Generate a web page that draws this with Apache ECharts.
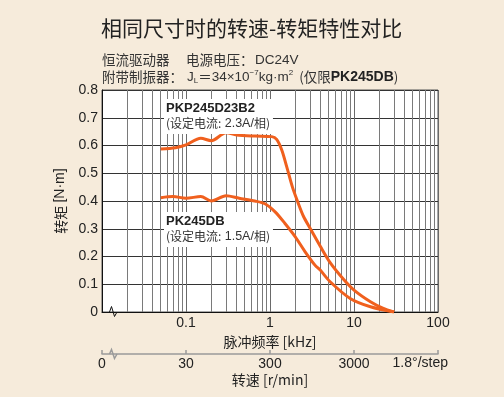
<!DOCTYPE html>
<html>
<head>
<meta charset="utf-8">
<script src="https://cdn.jsdelivr.net/npm/echarts@6/dist/echarts.min.js"></script>
<style>
html, body { margin: 0; padding: 0; background: #f6ebdb; }
#main { width: 504px; height: 397px; }
</style>
</head>
<body>
<div id="main"></div>
<script>
// PKP245D23B2 (2.3A/相)：脉冲频率 [kHz] / 转矩 [N·m]
var freqA = [0.05, 0.075, 0.1, 0.15, 0.2, 0.3, 0.4, 0.66, 1.05, 1.2, 1.38, 1.58, 1.85, 2.15, 2.5, 3.0, 4.0, 5.2, 7.5, 10, 15.7, 22, 30];
var torqueA = [0.587, 0.592, 0.602, 0.626, 0.617, 0.646, 0.638, 0.634, 0.632, 0.622, 0.584, 0.524, 0.45, 0.395, 0.345, 0.302, 0.235, 0.178, 0.118, 0.079, 0.037, 0.014, 0];
// PK245DB (1.5A/相)
var freqB = [0.05, 0.07, 0.1, 0.15, 0.2, 0.3, 0.43, 0.66, 0.87, 1.15, 1.5, 2.0, 2.62, 3.45, 3.96, 5.2, 9.0, 15.7, 30];
var torqueB = [0.412, 0.416, 0.41, 0.416, 0.40, 0.419, 0.41, 0.40, 0.39, 0.361, 0.32, 0.271, 0.217, 0.168, 0.151, 0.109, 0.049, 0.019, 0];
// 刻度文字 (0.01, 0.1, 1, 10, 100 kHz)
var freqLabels = ['', '0.1', '1', '10', '100'];
var speedLabels = ['0', '30', '300', '3000', ''];

var numFont = '"Liberation Sans Narrow", "Liberation Sans", sans-serif';
var latFont = '"Liberation Sans", sans-serif';
var cjkFont = '"Noto Sans CJK SC", sans-serif';
var lineColor = '#f0601e';

function pairs(xs, ys) {
    var out = [];
    for (var i = 0; i < xs.length; i++) out.push([xs[i], ys[i]]);
    return out;
}
function decade(v) {
    return Math.round(Math.log(v) / Math.LN10) + 2;
}

var myChart = echarts.init(document.getElementById('main'));

var noteRich = {
    b: { fontFamily: latFont, fontWeight: 'bold', fontSize: 13, lineHeight: 15, fill: '#222' },
    n: { fontFamily: cjkFont, fontWeight: 'normal', fontSize: 12, lineHeight: 15, fill: '#333' },
    d: { fontFamily: numFont, fontWeight: 'normal', fontSize: 12.5, lineHeight: 15, fill: '#333' }
};

var option = {
    backgroundColor: '#f6ebdb',
    animation: false,
    title: [{
        text: '相同尺寸时的转速-转矩特性对比',
        left: 101, top: 18, padding: 0,
        textStyle: { fontFamily: cjkFont, fontSize: 21, fontWeight: 'normal', color: '#222' }
    }, {
        text: '{a|恒流驱动器}{b|电源电压：}{c|DC24V}',
        left: 102, top: 53, padding: 0,
        textStyle: {
            fontFamily: cjkFont, fontSize: 13.5, fontWeight: 'normal', color: '#333',
            rich: {
                a: { fontFamily: cjkFont, fontWeight: 'normal', fontSize: 13.5, color: '#333', width: 84 },
                b: { fontFamily: cjkFont, fontWeight: 'normal', fontSize: 13.5, color: '#333', width: 69 },
                c: { fontFamily: latFont, fontWeight: 'normal', fontSize: 13.5, color: '#333' }
            }
        }
    }, {
        text: '{a|附带制振器：}{j|J}{sub|L}{a|＝}{f|34×10}{sup|−7}{f|kg·m}{sup|2}{g|}{a|(仅限}{b|PK245DB}{a|)}',
        left: 102, top: 69, padding: 0,
        textStyle: {
            fontFamily: cjkFont, fontSize: 13.5, fontWeight: 'normal', color: '#333', lineHeight: 16,
            rich: {
                a: { fontFamily: cjkFont, fontWeight: 'normal', fontSize: 13.5, color: '#333', lineHeight: 16 },
                j: { fontFamily: latFont, fontWeight: 'normal', fontSize: 13.5, color: '#333', lineHeight: 16, padding: [0, 0, 0, 4] },
                f: { fontFamily: latFont, fontWeight: 'normal', fontSize: 13.5, color: '#333', lineHeight: 16 },
                sub: { fontFamily: latFont, fontWeight: 'normal', fontSize: 8, color: '#333', verticalAlign: 'bottom', lineHeight: 12 },
                sup: { fontFamily: latFont, fontWeight: 'normal', fontSize: 8, color: '#333', verticalAlign: 'top', lineHeight: 10 },
                g: { width: 6 },
                b: { fontSize: 14, fontWeight: 'bold', fontFamily: latFont, color: '#222', lineHeight: 16 }
            }
        }
    }],
    grid: [{
        left: 102, top: 90, width: 336, height: 222,
        show: true, backgroundColor: '#ffffff', borderColor: '#555', borderWidth: 1
    }, {
        left: 102, top: 353, width: 336, height: 1
    }],
    xAxis: [{
        type: 'log', gridIndex: 0, logBase: 10, min: 0.01, max: 100,
        axisLine: { show: true, lineStyle: { color: '#111', width: 1 } },
        axisTick: { show: false },
        axisLabel: {
            margin: 4, color: '#222', fontSize: 14, fontFamily: numFont,
            formatter: function (v) { return freqLabels[decade(v)]; }
        },
        splitLine: { show: true, lineStyle: { color: '#6a6a6a', width: 1 } },
        minorTick: { show: false, splitNumber: 9 },
        minorSplitLine: { show: true, lineStyle: { color: '#7a7a7a', width: 1 } },
        name: '脉冲频率 [kHz]', nameLocation: 'middle', nameGap: 20,
        nameTextStyle: { fontFamily: cjkFont, fontSize: 14, color: '#222' }
    }, {
        type: 'log', gridIndex: 1, logBase: 10, min: 0.01, max: 100, position: 'bottom',
        axisLine: { show: true, lineStyle: { color: '#9a9a9a', width: 1.5 } },
        axisTick: { show: true, inside: true, length: 4, lineStyle: { color: '#9a9a9a', width: 1.5 } },
        axisLabel: {
            margin: 3, color: '#222', fontSize: 14, fontFamily: numFont,
            formatter: function (v) { return speedLabels[decade(v)]; }
        },
        splitLine: { show: false },
        name: '转速 [r/min]', nameLocation: 'middle', nameGap: 19,
        nameTextStyle: { fontFamily: cjkFont, fontSize: 14, color: '#222' }
    }],
    yAxis: [{
        type: 'value', gridIndex: 0, min: 0, max: 0.8, interval: 0.1,
        axisLine: { show: true, lineStyle: { color: '#111', width: 1 } },
        axisTick: { show: false },
        axisLabel: {
            margin: 4, color: '#222', fontSize: 14, fontFamily: numFont,
            formatter: function (v) { return v === 0 ? '0' : v.toFixed(1); }
        },
        splitLine: { show: true, lineStyle: { color: '#333', width: 1 } },
        name: '{c|转矩} {l|[N·m]}', nameLocation: 'middle', nameRotate: 90, nameGap: 30,
        nameTextStyle: {
            fontFamily: cjkFont, fontSize: 14, color: '#222',
            rich: {
                c: { fontFamily: cjkFont, fontWeight: 'normal', fontSize: 14, color: '#222' },
                l: { fontFamily: numFont, fontWeight: 'normal', fontSize: 14, color: '#222' }
            }
        }
    }, {
        type: 'value', gridIndex: 1, min: 0, max: 1, show: false
    }],
    series: [{
        name: 'PKP245D23B2', type: 'line', xAxisIndex: 0, yAxisIndex: 0,
        data: pairs(freqA, torqueA), smooth: 0.3, symbol: 'none',
        lineStyle: { color: lineColor, width: 3 }, z: 5
    }, {
        name: 'PK245DB', type: 'line', xAxisIndex: 0, yAxisIndex: 0,
        data: pairs(freqB, torqueB), smooth: 0.3, symbol: 'none',
        lineStyle: { color: lineColor, width: 3 }, z: 5
    }],
    graphic: [{
        type: 'text', x: 164, y: 99, z: 10,
        style: {
            text: '{b|PKP245D23B2}\n{n|(设定电流:} {d|2.3A/}{n|相)}',
            backgroundColor: '#fff', padding: [2, 3, 3, 2],
            rich: noteRich
        }
    }, {
        type: 'text', x: 164, y: 212, z: 10,
        style: {
            text: '{b|PK245DB}\n{n|(设定电流:} {d|1.5A/}{n|相)}',
            backgroundColor: '#fff', padding: [2, 3, 3, 2],
            rich: noteRich
        }
    }, {
        type: 'polyline', z: 10,
        shape: { points: [[109.5, 312], [111.5, 306.5], [114.5, 316.5], [117, 312]] },
        style: { stroke: '#111', lineWidth: 1, fill: null }
    }, {
        type: 'polyline', z: 10,
        shape: { points: [[109.5, 354], [111.5, 349.5], [114.5, 358.5], [117, 354]] },
        style: { stroke: '#9a9a9a', lineWidth: 1.5, fill: null }
    }, {
        type: 'text', x: 448, y: 363, z: 10,
        style: {
            text: '1.8°/step', align: 'right', verticalAlign: 'middle',
            font: '14px "Liberation Sans Narrow", "Liberation Sans", sans-serif', fill: '#222'
        }
    }]
};

myChart.setOption(option);
</script>
</body>
</html>
